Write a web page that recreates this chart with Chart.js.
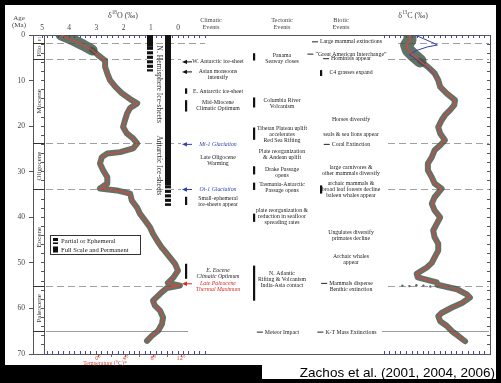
<!DOCTYPE html>
<html>
<head>
<meta charset="utf-8">
<title>Cenozoic climate, tectonic and biotic events</title>
<script src="https://cdn.jsdelivr.net/npm/chart.js@4.4.1/dist/chart.umd.min.js"></script>
<style>
  html, body { margin: 0; padding: 0; background: #000; }
  canvas { display: block; }
</style>
</head>
<body>
<canvas id="chart" width="501" height="383"></canvas>
<script>
// Benthic foraminiferal oxygen-isotope record (age in Ma, delta-18O in per mil)
const o18Age = [0, 1.1, 2.2, 3.3, 4.4, 5.6, 7, 8.4, 9.9, 11.4, 12.8, 14.3, 15, 16, 17.2, 18.7, 20.2, 21.6, 22.7, 23.8,
  24.9, 25.7, 26, 26.8, 28.2, 29.7, 31.2, 32.6, 33.7, 34.1, 34.8, 36.3, 37.9, 39.2, 40.7, 42.2, 43.6, 45.1, 46.7, 47.3,
  48.8, 50.2, 51.7, 53.3, 54.4, 55, 55.5, 56.8, 58.3, 59.4, 60.5, 62, 63.4, 64.9, 66, 67.1];
const o18Val = [4.3, 3.86, 3.49, 3.16, 2.94, 2.68, 2.68, 2.6, 2.5, 2.3, 2.06, 1.7, 1.5, 1.76, 1.87, 1.95, 2.02, 1.88, 1.65, 1.5,
  1.65, 2.13, 2.6, 2.8, 2.87, 2.75, 2.6, 2.6, 2.87, 2.25, 1.76, 1.7, 1.5, 1.4, 1.21, 1.03, 0.92, 0.77, 0.59, 0.5,
  0.3, 0.11, 0.0, 0.18, 0.37, -0.07, 0.41, 0.66, 0.92, 0.85, 0.66, 0.55, 0.59, 0.73, 0.96, 1.14];

// Carbon-isotope record (age in Ma, delta-13C in per mil)
const c13Age = [0, 1.1, 2.2, 3.3, 4.4, 5.7, 7, 8.4, 9.9, 11.4, 12.8, 14.3, 15.4, 16.5, 17.6, 18.7, 20.2, 21.6, 23.1, 24.2,
  25.3, 26.8, 28.2, 29.7, 31.2, 32.6, 33.7, 34.1, 35.6, 37, 38.5, 40, 41.4, 42.9, 44.4, 45.8, 47.3, 48.8, 50, 51,
  52.4, 53.2, 54.3, 54.8, 55.8, 56.9, 57.6, 58.8, 59.8, 61, 61.7, 62.8, 63.8, 65, 66, 67.2];
const c13Val = [0.32, 0.32, 0.2, 0.26, 0.44, 0.68, 0.96, 1.2, 1.33, 1.4, 1.63, 1.93, 1.9, 1.75, 1.57, 1.45, 1.33, 1.4, 1.57, 1.4,
  1.2, 1.1, 0.96, 0.96, 1.1, 1.2, 1.45, 1.4, 1.2, 1.1, 1.2, 1.4, 1.28, 1.15, 1.2, 1.33, 1.33, 1.2, 1.1, 0.92,
  0.56, 0.6, 1.28, 1.3, 2.0, 2.35, 2.46, 2.18, 1.82, 1.45, 1.33, 1.4, 1.63, 1.82, 2.04, 2.29];

// Late Neogene carbon-isotope curve drawn in blue
const c13BlueAge = [0, 0.8, 1.6, 2.2, 2.6, 3.4, 4.3, 5.2, 6.2, 7.2, 8.2, 9.5];
const c13BlueVal = [0.5, 0.8, 1.1, 1.3, 0.95, 0.55, 0.3, 0.5, 0.75, 0.95, 1.15, 1.3];

// Samples of the carbon-isotope excursion at the Paleocene/Eocene boundary
const c13CieAge = [55.0, 55.1, 54.9, 55.0, 55.2];
const c13CieVal = [0.05, 0.3, 0.55, 0.8, 1.05];

// Axis labels
const ageTicks = [0, 10, 20, 30, 40, 50, 60, 70];
const o18Labels = [0, 1, 2, 3, 4, 5];
const c13Labels = [-1, 0, 1, 2, 3];
const tempLabels = [0, 4, 8, 12];

// Epochs (boundary ages in Ma)
const epochNames = ['Pl', 'Plio', 'Miocene', 'Oligocene', 'Eocene', 'Paleocene', ''];
const epochBounds = [0, 1.8, 5.3, 23.8, 33.7, 55, 65, 70];
const dashedAges = [1.8, 5.3, 23.8, 33.7, 55];
const solidAges = [65];

// Ice-sheet extent (from age, to age, kind)
const nhIce = [[0, 2.6, 'full'], [2.6, 8, 'partial']];
const antIce = [[0, 33, 'full'], [33, 37.5, 'partial']];

// Events: first-line age, text lines, marker
const climaticEvents = [
  { age: 5.9, t: ['W. Antarctic ice-sheet'], mark: 'arrow' },
  { age: 8.1, t: ['Asian monsoons', 'intensify'], mark: 'arrow' },
  { age: 12.3, t: ['E. Antarctic ice-sheet'], bar: [11.7, 12.9] },
  { age: 14.7, t: ['Mid-Miocene', 'Climatic Optimum'], bar: [14.3, 16.8] },
  { age: 24, t: ['Mi-1 Glaciation'], mark: 'arrow', color: '#2b3fae', italic: true },
  { age: 26.9, t: ['Late Oligocene', 'Warming'] },
  { age: 33.9, t: ['Oi-1 Glaciation'], mark: 'arrow', color: '#2b3fae', italic: true },
  { age: 35.9, t: ['Small-ephemeral', 'ice-sheets appear'], bar: [35.5, 37.3] },
  { age: 51.7, t: ['E. Eocene', 'Climatic Optimum'], bar: [50.2, 53.5], italic: true },
  { age: 54.6, t: ['Late Paleocene', 'Thermal Maximum'], mark: 'arrow', color: '#d42a20', italic: true }
];
const tectonicEvents = [
  { age: 4.4, t: ['Panama', 'Seaway closes'], bar: [4.0, 5.6] },
  { age: 14.3, t: ['Columbia River', 'Volcanism'], bar: [13.7, 15.9] },
  { age: 20.5, t: ['Tibetan Plateau uplift', 'accelerates', 'Red Sea Rifting'], bar: [20.3, 23.0] },
  { age: 25.5, t: ['Plate reorganization', '& Andean uplift'] },
  { age: 29.5, t: ['Drake Passage', 'opens'], bar: [28.8, 30.6] },
  { age: 32.8, t: ['Tasmania-Antarctic', 'Passage opens'], bar: [32.4, 34.0] },
  { age: 38.5, t: ['plate reorganization &', 'reduction in seafloor', 'spreading rates'], bar: [39.2, 41.0] },
  { age: 52.4, t: ['N. Atlantic', 'Rifting & Volcanism', 'India-Asia contact'], bar: [50.6, 58.3] },
  { age: 65.2, t: ['Meteor Impact'], mark: 'dash' }
];
const bioticEvents = [
  { age: 1.5, t: ['Large mammal extinctions'], mark: 'dash' },
  { age: 4.2, t: ['\u201cGreat American Interchange\u201d'], mark: 'dash' },
  { age: 5.2, t: ['Hominids appear'], mark: 'dash' },
  { age: 8.2, t: ['C4 grasses expand'], bar: [7.7, 9.0] },
  { age: 18.5, t: ['Horses diversify'] },
  { age: 21.8, t: ['seals & sea lions appear'] },
  { age: 24, t: ['Coral Extinction'], mark: 'dash' },
  { age: 29, t: ['large carnivores &', 'other mammals diversify'] },
  { age: 32.6, t: ['archaic mammals &', 'broad leaf forests decline', 'baleen whales appear'], bar: [33.0, 34.8] },
  { age: 43.4, t: ['Ungulates diversify', 'primates decline'] },
  { age: 48.6, t: ['Archaic whales', 'appear'] },
  { age: 54.5, t: ['Mammals disperse', 'Benthic extinction'], mark: 'dash' },
  { age: 65.2, t: ['K-T Mass Extinctions'], mark: 'dash' }
];

const SERIF = '"Liberation Serif", "DejaVu Serif", serif';
const SANS = '"Liberation Sans", Arial, sans-serif';
const BLUE = '#3a46b8';
const RED = '#d24a3e';
const TXT = '#444';
const BAND = 'rgba(66, 82, 70, 0.82)';

function range(a, b, step) {
  const out = [];
  for (let i = 0; a + i * step <= b + 1e-9; i++) out.push(Math.round((a + i * step) * 100) / 100);
  return out;
}
const asTicks = vals => vals.map(v => ({ value: v }));
const pts = (ages, vals) => ages.map((a, i) => ({ x: vals[i], y: a }));

function isoText(c, cx, baseY, pre, sup, post, size) {
  c.font = size + 'px ' + SERIF;
  const w1 = c.measureText(pre).width, w3 = c.measureText(post).width;
  c.font = (size * 0.65) + 'px ' + SERIF;
  const w2 = c.measureText(sup).width;
  let x = cx - (w1 + w2 + w3) / 2;
  c.textAlign = 'left'; c.textBaseline = 'alphabetic';
  c.font = size + 'px ' + SERIF; c.fillText(pre, x, baseY); x += w1;
  c.font = (size * 0.65) + 'px ' + SERIF; c.fillText(sup, x, baseY - size * 0.38); x += w2;
  c.font = size + 'px ' + SERIF; c.fillText(post, x, baseY);
}

function drawIceBar(c, ys, list, x0, w) {
  list.forEach(([a, b, kind]) => {
    const y0 = ys.getPixelForValue(a), y1 = ys.getPixelForValue(b);
    c.fillStyle = '#111';
    c.fillRect(x0, y0, w, y1 - y0);
    if (kind === 'partial') {
      c.fillStyle = '#fff';
      for (let y = y0 + 3; y < y1; y += 4.5) c.fillRect(x0, y, w, 1.4);
    }
  });
}

function drawEvents(c, ys, list, cx, markX) {
  const gap = 6;
  list.forEach(ev => {
    const y0 = ys.getPixelForValue(ev.age);
    c.font = (ev.italic ? 'italic ' : '') + '5.8px ' + SERIF;
    c.fillStyle = ev.color || '#222';
    c.textAlign = 'center'; c.textBaseline = 'middle';
    ev.t.forEach((s, i) => c.fillText(s, cx, y0 + i * gap));
    if (ev.bar) {
      const a = ys.getPixelForValue(ev.bar[0]), b = ys.getPixelForValue(ev.bar[1]);
      c.fillStyle = '#111';
      c.fillRect(markX - 1, a, 2.2, b - a);
    }
    if (ev.mark === 'arrow') {
      const col = ev.color || '#111';
      c.strokeStyle = col; c.fillStyle = col; c.lineWidth = 1;
      c.beginPath(); c.moveTo(markX + 6, y0); c.lineTo(markX - 1, y0); c.stroke();
      c.beginPath(); c.moveTo(markX - 4, y0); c.lineTo(markX + 1, y0 - 2.2); c.lineTo(markX + 1, y0 + 2.2); c.closePath(); c.fill();
    }
    if (ev.mark === 'dash') {
      const w = c.measureText(ev.t[0]).width;
      c.strokeStyle = '#222'; c.lineWidth = 1;
      c.beginPath(); c.moveTo(cx - w / 2 - 8, y0); c.lineTo(cx - w / 2 - 2, y0); c.stroke();
    }
  });
}

const decorations = {
  id: 'decorations',
  beforeDraw(chart) {
    const c = chart.ctx;
    c.save();
    c.fillStyle = '#000'; c.fillRect(0, 0, chart.width, chart.height);
    c.fillStyle = '#fff'; c.fillRect(5, 5, 491, 360);
    c.fillRect(262, 360, 234, 19);
    c.restore();
  },
  beforeDatasetsDraw(chart) {
    const c = chart.ctx, ys = chart.scales.y;
    c.save();
    // period boundary lines across the isotope panels
    c.strokeStyle = '#a0a0a0'; c.lineWidth = 1;
    c.setLineDash([7, 4]);
    dashedAges.forEach((a, i) => {
      const py = Math.round(ys.getPixelForValue(a)) + 0.5;
      c.beginPath(); c.moveTo(46, py); c.lineTo(i === 0 ? 205 : 181, py); c.stroke();
      c.beginPath(); c.moveTo(i === 0 ? 398 : 388, py); c.lineTo(489, py); c.stroke();
    });
    c.setLineDash([]);
    c.strokeStyle = '#9a9a9a';
    solidAges.forEach(a => {
      const py = Math.round(ys.getPixelForValue(a)) + 0.5;
      c.beginPath(); c.moveTo(46, py); c.lineTo(188, py); c.stroke();
      c.beginPath(); c.moveTo(382, py); c.lineTo(489, py); c.stroke();
    });
    // epoch column
    c.strokeStyle = '#333';
    for (let i = 1; i < epochBounds.length - 1; i++) {
      const py = Math.round(ys.getPixelForValue(epochBounds[i])) + 0.5;
      c.beginPath(); c.moveTo(33, py); c.lineTo(45, py); c.stroke();
    }
    c.fillStyle = '#333';
    epochNames.forEach((name, i) => {
      if (!name) return;
      const mid = ys.getPixelForValue((epochBounds[i] + epochBounds[i + 1]) / 2);
      c.save();
      c.translate(39.5, mid);
      c.rotate(-Math.PI / 2);
      c.font = (name.length < 3 ? 4.5 : 7) + 'px ' + SERIF;
      c.textAlign = 'center'; c.textBaseline = 'middle';
      c.fillText(name, 0, 0);
      c.restore();
    });
    // ice-sheet bars
    drawIceBar(c, ys, nhIce, 147, 6);
    drawIceBar(c, ys, antIce, 165, 6);
    c.restore();
  },
  afterDraw(chart) {
    const c = chart.ctx, ys = chart.scales.y;
    c.save();
    c.fillStyle = TXT;
    c.textAlign = 'center'; c.textBaseline = 'middle';
    c.font = '7px ' + SERIF;
    c.fillText('Age', 19, 18.5);
    c.fillText('(Ma)', 19, 25.5);
    isoText(c, 123, 17.5, '\u03b4', '18', 'O (\u2030)', 8);
    isoText(c, 413, 17.5, '\u03b4', '13', 'C (\u2030)', 8);
    c.fillStyle = TXT; c.textAlign = 'center'; c.textBaseline = 'middle';
    c.font = '6.3px ' + SERIF;
    [['Climatic', 211], ['Tectonic', 282], ['Biotic', 341]].forEach(([h, x]) => {
      c.fillText(h, x, 20.5);
      c.fillText('Events', x, 27);
    });
    // rotated ice-sheet labels
    c.fillStyle = '#333';
    c.font = '7.5px ' + SERIF;
    [['N. Hemisphere Ice-sheets', 10.8], ['Antarctic Ice-sheets', 28.6]].forEach(([s, a]) => {
      c.save();
      c.translate(158.5, ys.getPixelForValue(a));
      c.rotate(Math.PI / 2);
      c.textAlign = 'center'; c.textBaseline = 'middle';
      c.fillText(s, 0, 0);
      c.restore();
    });
    // event columns
    drawEvents(c, ys, climaticEvents, 218, 186);
    drawEvents(c, ys, tectonicEvents, 282, 254);
    drawEvents(c, ys, bioticEvents, 351, 321);
    // ice-sheet legend
    c.fillStyle = '#fff'; c.strokeStyle = '#333'; c.lineWidth = 1;
    c.fillRect(50.5, 235.5, 90, 19); c.strokeRect(50.5, 235.5, 90, 19);
    drawIceBar(c, { getPixelForValue: v => v }, [[238, 244, 'partial']], 53, 5);
    drawIceBar(c, { getPixelForValue: v => v }, [[246.5, 252.5, 'full']], 53, 5);
    c.fillStyle = '#222'; c.font = '6.6px ' + SERIF; c.textAlign = 'left'; c.textBaseline = 'middle';
    c.fillText('Partial or Ephemeral', 61, 241.5);
    c.fillText('Full Scale and Permanent', 61, 250);
    // temperature axis title
    c.fillStyle = RED; c.font = '5.8px ' + SERIF; c.textAlign = 'center';
    c.fillText('Temperature (\u00b0C)*', 105, 363.5);
    // source
    c.fillStyle = '#000'; c.font = '13.5px ' + SANS; c.textAlign = 'right'; c.textBaseline = 'alphabetic';
    c.fillText('Zachos et al. (2001, 2004, 2006)', 495, 377);
    c.restore();
  }
};

const blueTick = ctx => (ctx.tick && ctx.tick.value >= -0.65) ? BLUE : 'rgba(0,0,0,0)';
const tickFont = { family: SERIF, size: 7.5 };

// Smoothed curves are listed first so that they are painted over the scatter bands
new Chart(document.getElementById('chart'), {
  type: 'scatter',
  data: {
    datasets: [
      { data: pts(o18Age, o18Val), xAxisID: 'xO', yAxisID: 'y', showLine: true, pointRadius: 0,
        borderColor: RED, borderWidth: 1.2 },
      { data: pts(c13Age, c13Val), xAxisID: 'xC', yAxisID: 'y', showLine: true, pointRadius: 0,
        borderColor: RED, borderWidth: 1.2 },
      { data: pts(c13BlueAge, c13BlueVal), xAxisID: 'xC', yAxisID: 'y', showLine: true, pointRadius: 0,
        borderColor: '#3040b0', borderWidth: 1 },
      { data: pts(c13CieAge, c13CieVal), xAxisID: 'xC', yAxisID: 'y', showLine: false, pointRadius: 1.2,
        pointBackgroundColor: '#5a6a60', pointBorderWidth: 0 },
      { data: pts(o18Age, o18Val), xAxisID: 'xO', yAxisID: 'y', showLine: true, pointRadius: 0,
        borderColor: BAND, borderWidth: 6, borderJoinStyle: 'round', borderCapStyle: 'round',
        segment: { borderWidth: ctx => ctx.p0.parsed.y < 3 ? 11 : 6 } },
      { data: pts(c13Age, c13Val), xAxisID: 'xC', yAxisID: 'y', showLine: true, pointRadius: 0,
        borderColor: BAND, borderWidth: 6, borderJoinStyle: 'round', borderCapStyle: 'round',
        segment: { borderWidth: ctx => ctx.p0.parsed.y < 5 ? 13 : 6 } }
    ]
  },
  options: {
    responsive: false,
    animation: false,
    events: [],
    layout: { padding: 0 },
    plugins: { legend: { display: false }, tooltip: { enabled: false } },
    scales: {
      y: {
        axis: 'y', type: 'linear', position: 'left', min: 0, max: 70, reverse: true, bounds: 'data',
        afterBuildTicks: s => { s.ticks = asTicks(ageTicks); },
        ticks: { color: TXT, font: tickFont, padding: 4, autoSkip: false },
        grid: { drawOnChartArea: false, tickLength: 4, color: '#555' },
        border: { color: '#555' },
        afterFit: s => { s.width = 33; }
      },
      yE: {
        axis: 'y', type: 'linear', position: { xO: 4.89 }, min: 0, max: 70, reverse: true, bounds: 'data',
        afterBuildTicks: s => { s.ticks = asTicks(range(0, 70, 2)); },
        ticks: { display: false },
        grid: { drawOnChartArea: false, tickLength: 3, color: '#555' },
        border: { color: '#555' }
      },
      yR: {
        axis: 'y', type: 'linear', position: 'right', min: 0, max: 70, reverse: true, bounds: 'data',
        afterBuildTicks: s => { s.ticks = asTicks(range(0, 70, 2)); },
        ticks: { display: false },
        grid: { drawOnChartArea: false, tickLength: -3, color: '#555' },
        border: { color: '#555' },
        afterFit: s => { s.width = 11; }
      },
      xO: {
        axis: 'x', type: 'linear', position: 'top', weight: 2, min: -11.47, max: 5.331, reverse: true, bounds: 'data',
        afterBuildTicks: s => { s.ticks = asTicks(range(-1, 5, 0.2)); },
        ticks: { color: TXT, font: tickFont, padding: 5, autoSkip: false, maxRotation: 0,
          callback: v => o18Labels.includes(v) ? String(v) : '' },
        grid: { drawOnChartArea: false, tickLength: -3, tickColor: BLUE, color: BLUE },
        border: { color: '#555' },
        afterFit: s => { s.height = 35; }
      },
      xC: {
        axis: 'x', type: 'linear', position: 'top', weight: 1, min: -13.143, max: 3.179, bounds: 'data',
        afterBuildTicks: s => { s.ticks = asTicks(range(-1, 3.2, 0.2)); },
        ticks: { color: TXT, font: tickFont, padding: 5, autoSkip: false, maxRotation: 0,
          callback: v => c13Labels.includes(v) ? String(v) : '' },
        grid: { drawOnChartArea: false, tickLength: -3, tickColor: blueTick, color: BLUE },
        border: { display: false },
        afterFit: s => { s.height = 0; }
      },
      xO2: {
        axis: 'x', type: 'linear', position: 'bottom', weight: 0, min: -11.47, max: 5.331, reverse: true, bounds: 'data',
        afterBuildTicks: s => { s.ticks = asTicks(range(-1, 4.8, 0.2)); },
        ticks: { display: false },
        grid: { drawOnChartArea: false, tickLength: -3, tickColor: BLUE, color: BLUE },
        border: { color: '#555' },
        afterFit: s => { s.height = 0; }
      },
      xC2: {
        axis: 'x', type: 'linear', position: 'bottom', weight: 1, min: -13.143, max: 3.179, bounds: 'data',
        afterBuildTicks: s => { s.ticks = asTicks(range(-0.6, 3.2, 0.2)); },
        ticks: { display: false },
        grid: { drawOnChartArea: false, tickLength: -3, tickColor: BLUE, color: BLUE },
        border: { display: false },
        afterFit: s => { s.height = 0; }
      },
      xT: {
        axis: 'x', type: 'linear', position: 'bottom', weight: 2, min: -9.398, max: 56.675, bounds: 'data',
        afterBuildTicks: s => { s.ticks = asTicks(range(0, 12, 2)); },
        ticks: { color: RED, font: { family: SERIF, size: 6.3 }, padding: -2, autoSkip: false, maxRotation: 0,
          callback: v => tempLabels.includes(v) ? v + '\u00b0' : '' },
        grid: { drawOnChartArea: false, tickLength: 3, tickColor: RED, color: RED },
        border: { display: false },
        afterFit: s => { s.height = 29; }
      }
    }
  },
  plugins: [decorations]
});
</script>
</body>
</html>
